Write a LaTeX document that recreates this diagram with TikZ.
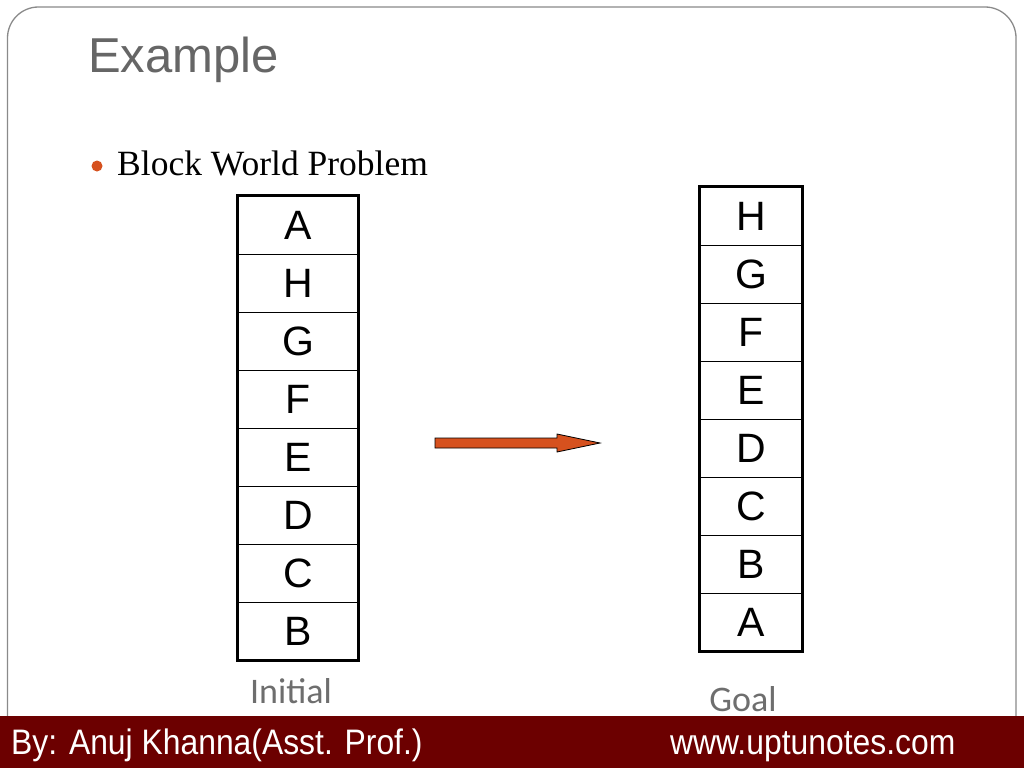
\documentclass[tikz,border=0pt]{standalone}
\usepackage{fontspec}
\usetikzlibrary{calc}
\setmainfont{Liberation Serif}
\newfontfamily\arialf{Liberation Sans}
\newfontfamily\arialnf[FakeStretch=0.9]{Liberation Sans}
\newfontfamily\calibf{Carlito}
\definecolor{framegray}{HTML}{8A8A8A}
\definecolor{titlegray}{HTML}{666666}
\definecolor{labelgray}{HTML}{6E6E6E}
\definecolor{footred}{HTML}{6C0000}
\definecolor{accent}{HTML}{D6511E}
\tikzset{
  cell/.style={draw=black, line width=1pt, inner sep=0pt, minimum height=58pt,
    font=\arialf\fontsize{41}{44}\selectfont},
  icell/.style={cell, minimum width=120pt},
  gcell/.style={cell, minimum width=102pt},
  outer/.style={draw=black, line width=3pt},
  caption/.style={text=labelgray, font=\calibf\fontsize{36}{40}\selectfont, inner sep=0pt, anchor=base},
  foot/.style={text=white, font=\arialnf\fontsize{35.4}{40}\selectfont, inner sep=0pt},
  bigarrow/.style={draw=black, line width=0.8pt, fill=accent}
}
\begin{document}
\begin{tikzpicture}[x=1pt,y=-1pt]
\useasboundingbox (0,0) rectangle (1024,768);
\fill[white] (0,0) rectangle (1024,768);
% frame
\draw[framegray, line width=1.3pt] (7.5,716) -- (7.5,38) arc[start angle=180,end angle=270,radius=31] -- (985,7) arc[start angle=270,end angle=360,radius=31] -- (1016,716);
% footer
\fill[footred] (0,716) rectangle (1024,768);
\node[foot, anchor=base west] (by) at (11,754) {By: Anuj Khanna(Asst. Prof.)};
\node[foot, anchor=base west] (www) at (670,754) {www.uptunotes.com};
% title
\node[anchor=base west, inner sep=0pt, text=titlegray, font=\arialf\fontsize{49}{56}\selectfont] (title) at (88,72) {Example};
% bullet
\fill[accent] (97,166) circle[radius=5.5];
\node[anchor=base west, inner sep=0pt, font=\fontsize{35.5}{40}\selectfont] (bwp) at (117,175) {Block World Problem};
% initial stack
\foreach \l [count=\k from 0] in {A,H,G,F,E,D,C,B}{
  \node[icell] (i\k) at (298,{225+58*\k}) {\l};
}
\draw[outer] (i0.north west) rectangle (i7.south east);
\node[caption] (initial) at (291,703) {Initial};
% goal stack
\foreach \l [count=\k from 0] in {H,G,F,E,D,C,B,A}{
  \node[gcell] (g\k) at (751,{216+58*\k}) {\l};
}
\draw[outer] (g0.north west) rectangle (g7.south east);
\node[caption] (goal) at (743,711) {Goal};
% arrow
\coordinate (as) at (435,443);
\coordinate (at) at (600,443);
\draw[bigarrow] ($(as)+(0,-5)$) -- (557,438) -- (557,434) -- (at) -- (557,452) -- (557,448) -- ($(as)+(0,5)$) -- cycle;
\end{tikzpicture}
\end{document}
